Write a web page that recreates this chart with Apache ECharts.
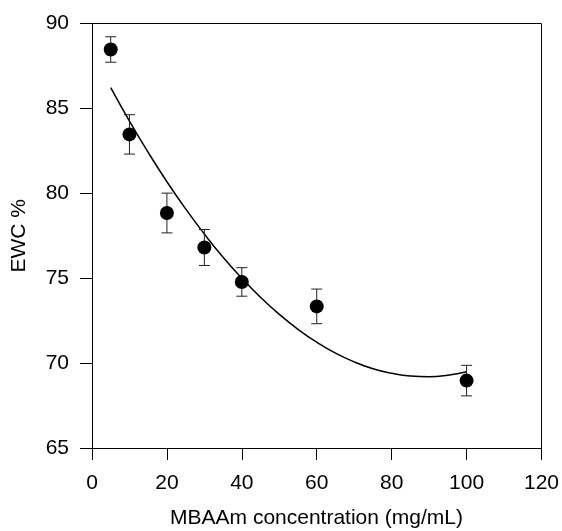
<!DOCTYPE html>
<html>
<head>
<meta charset="utf-8">
<script src="https://cdn.jsdelivr.net/npm/echarts@6/dist/echarts.min.js"></script>
<style>
html,body{margin:0;padding:0;background:#fff;}
#chart{width:562px;height:531px;}
</style>
</head>
<body>
<div id="chart"></div>
<script>
// Measured points
var concX = [5, 10, 20, 30, 40, 60, 100];
var ewcVals = [88.47, 83.47, 78.84, 76.81, 74.78, 73.34, 68.97];
var ewcErr = [0.75, 1.16, 1.17, 1.06, 0.84, 1.02, 0.90];
// Fitted curve
var fitX = [5, 10, 15, 20, 25, 30, 35, 40, 45, 50, 55, 60, 65, 70, 75, 80, 85, 90, 95, 100];
var fitY = [86.22, 84.25, 82.41, 80.68, 79.08, 77.60, 76.23, 74.99, 73.87, 72.87, 71.99, 71.23, 70.59, 70.07, 69.67, 69.40, 69.24, 69.20, 69.29, 69.49];
var xTicks = [0, 20, 40, 60, 80, 100, 120];
var yTicks = [65, 70, 75, 80, 85, 90];
var xTitle = 'MBAAm concentration (mg/mL)';
var yTitle = 'EWC %';

var FONT = '"Liberation Sans", Arial, Helvetica, sans-serif';

var pts = concX.map(function (x, i) { return [x, ewcVals[i]]; });
var fitData = fitX.map(function (x, i) { return [x, fitY[i]]; });
var capData = [];
concX.forEach(function (x, i) {
  capData.push([x, ewcVals[i] - ewcErr[i]]);
  capData.push([x, ewcVals[i] + ewcErr[i]]);
});

var series = [{
  type: 'line', data: fitData, smooth: true, showSymbol: false, symbol: 'none',
  lineStyle: {color: '#000', width: 1.5}, z: 2, silent: true
}];
concX.forEach(function (x, i) {
  series.push({
    type: 'line', data: [[x, ewcVals[i] - ewcErr[i]], [x, ewcVals[i] + ewcErr[i]]],
    symbol: 'none', showSymbol: false, lineStyle: {color: '#222', width: 1}, z: 3, silent: true
  });
});
series.push({
  type: 'scatter', data: capData, symbol: 'rect', symbolSize: [11, 1],
  itemStyle: {color: '#222', opacity: 1}, z: 3, silent: true
});
series.push({
  type: 'scatter', data: pts, symbol: 'circle', symbolSize: 14,
  itemStyle: {color: '#000', opacity: 1}, z: 4
});

var chart = echarts.init(document.getElementById('chart'), null, {renderer: 'canvas'});
chart.setOption({
  animation: false,
  backgroundColor: '#fff',
  grid: {left: 92, top: 23.5, right: 20.5, bottom: 83},
  graphic: [{
    type: 'rect', shape: {x: 92.5, y: 23.5, width: 449, height: 425},
    style: {fill: 'none', stroke: '#000', lineWidth: 1}, silent: true
  }, {
    type: 'text', x: 316.5, y: 518,
    style: {text: xTitle, font: '21px ' + FONT, fill: '#000',
            align: 'center', verticalAlign: 'middle',
            textAlign: 'center', textVerticalAlign: 'middle'}
  }],
  xAxis: {
    type: 'value', min: xTicks[0], max: xTicks[xTicks.length - 1], interval: 20,
    axisLine: {show: true, lineStyle: {color: '#000', width: 1}, onZero: false},
    axisTick: {show: true, inside: false, length: 12, lineStyle: {color: '#000', width: 1}},
    axisLabel: {fontFamily: FONT, fontSize: 21, color: '#000', margin: 25},
    splitLine: {show: false}
  },
  yAxis: {
    type: 'value', min: yTicks[0], max: yTicks[yTicks.length - 1], interval: 5,
    name: yTitle, nameLocation: 'middle', nameGap: 62,
    nameTextStyle: {fontFamily: FONT, fontSize: 21, color: '#000'},
    axisLine: {show: true, lineStyle: {color: '#000', width: 1}, onZero: false},
    axisTick: {show: true, inside: false, length: 12, lineStyle: {color: '#000', width: 1}},
    axisLabel: {fontFamily: FONT, fontSize: 21, color: '#000', margin: 23},
    splitLine: {show: false}
  },
  series: series
});
</script>
</body>
</html>
